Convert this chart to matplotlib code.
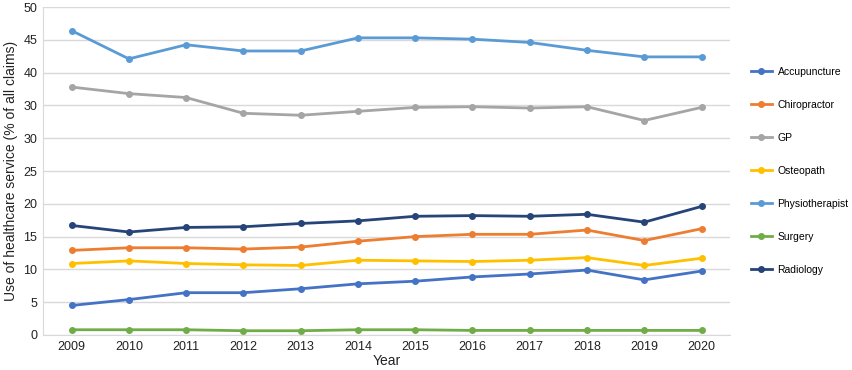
import matplotlib
matplotlib.use("Agg")
import matplotlib.pyplot as plt

plt.rcParams["font.family"] = ["Liberation Sans", "DejaVu Sans"]

# Datos (% de todas las reclamaciones)
years = ["2009", "2010", "2011", "2012", "2013", "2014",
         "2015", "2016", "2017", "2018", "2019", "2020"]

accupuncture = [4.5, 5.4, 6.45, 6.45, 7.05, 7.8, 8.2, 8.85, 9.3, 9.9, 8.4, 9.75]
chiropractor = [12.9, 13.3, 13.3, 13.1, 13.4, 14.3, 15.0, 15.35, 15.35, 16.0, 14.4, 16.2]
gp = [37.8, 36.8, 36.2, 33.8, 33.5, 34.1, 34.7, 34.8, 34.6, 34.8, 32.7, 34.7]
osteopath = [10.9, 11.3, 10.9, 10.7, 10.6, 11.4, 11.3, 11.2, 11.4, 11.8, 10.6, 11.7]
physiotherapist = [46.4, 42.1, 44.25, 43.3, 43.3, 45.3, 45.3, 45.1, 44.6, 43.4, 42.4, 42.4]
surgery = [0.8, 0.8, 0.8, 0.65, 0.65, 0.8, 0.8, 0.7, 0.7, 0.7, 0.7, 0.7]
radiology = [16.7, 15.7, 16.4, 16.5, 17.0, 17.4, 18.1, 18.2, 18.1, 18.4, 17.2, 19.6]

# Etiquetas del eje Y tal como aparecen (el original repite "30")
ytick_values = [0, 5, 10, 15, 20, 25, 30, 35, 40, 45, 50]
ytick_labels = ["0", "5", "10", "15", "20", "25", "30", "30", "40", "45", "50"]

series = [
    ("Accupuncture", accupuncture, "#4472C4"),
    ("Chiropractor", chiropractor, "#ED7D31"),
    ("GP", gp, "#A5A5A5"),
    ("Osteopath", osteopath, "#FFC000"),
    ("Physiotherapist", physiotherapist, "#5B9BD5"),
    ("Surgery", surgery, "#70AD47"),
    ("Radiology", radiology, "#264478"),
]

fig = plt.figure(figsize=(8.53, 3.70), dpi=100)
ax = fig.add_axes([0.0504, 0.0946, 0.8056, 0.8864])

x = range(len(years))
for name, vals, color in series:
    ax.plot(x, vals, color=color, linewidth=2.0, marker="o",
            markersize=4, label=name)

ax.set_xlim(-0.5, len(years) - 0.5)
ax.set_ylim(0, 50)
ax.set_xticks(list(x))
ax.set_xticklabels(years, fontsize=9, color="#222222")
ax.set_yticks(ytick_values)
ax.set_yticklabels(ytick_labels, fontsize=9, color="#222222")
ax.tick_params(length=0, pad=4)

ax.grid(axis="y", color="#D9D9D9", linewidth=1.0)
ax.set_axisbelow(True)
for side in ["top", "right"]:
    ax.spines[side].set_visible(False)
ax.spines["left"].set_color("#D9D9D9")
ax.spines["bottom"].set_color("#D9D9D9")

ax.set_xlabel("Year", fontsize=10, color="#222222", labelpad=1)
ax.set_ylabel("Use of healthcare service (% of all claims)", fontsize=10,
              color="#222222", labelpad=4)

fig.legend(loc="upper left", bbox_to_anchor=(0.875, 0.83), frameon=False,
           fontsize=7.5, labelspacing=2.2, handlelength=2.1,
           handletextpad=0.5, borderaxespad=0)

fig.savefig("out.png", dpi=100)
